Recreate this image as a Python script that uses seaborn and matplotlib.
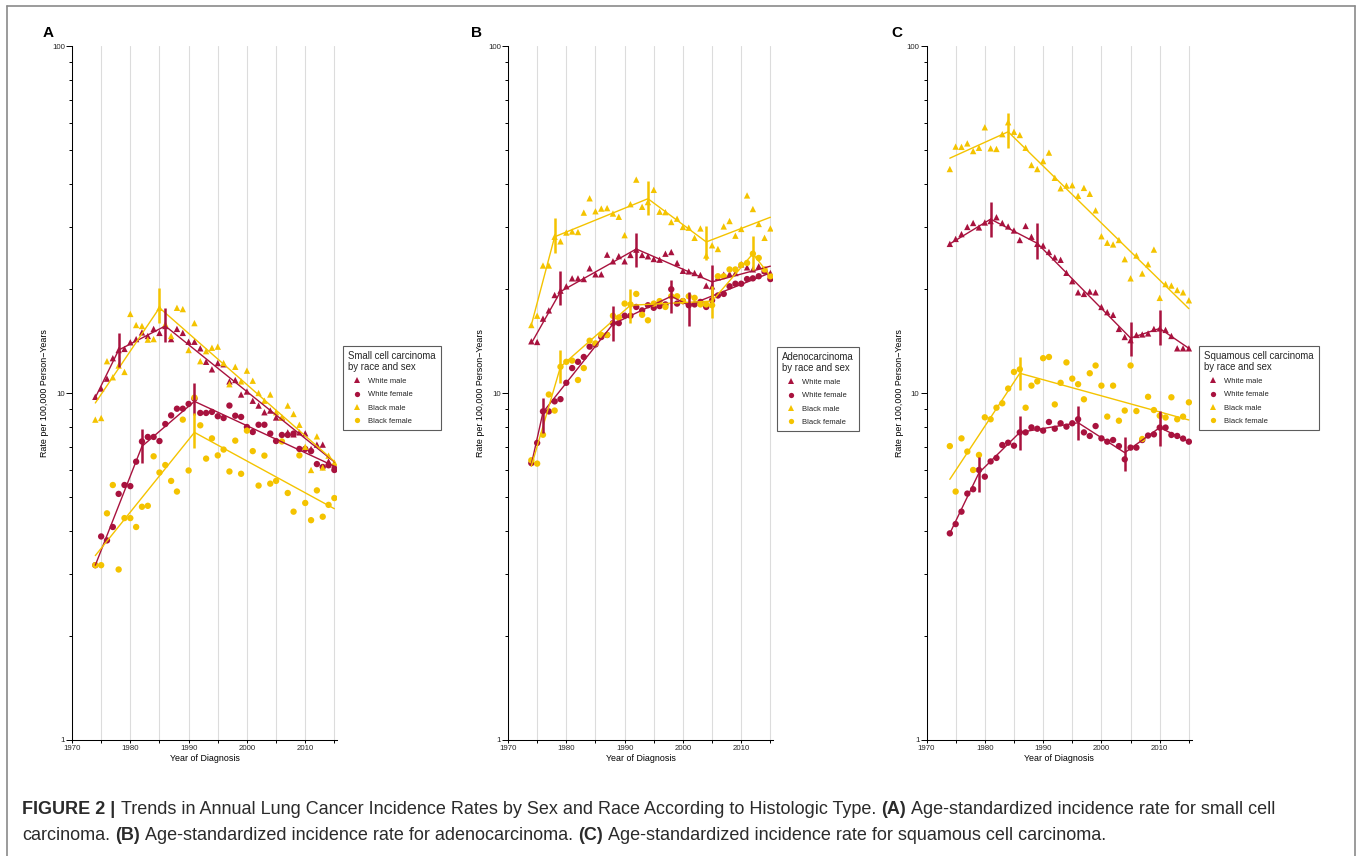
import numpy as np
import pandas as pd
import matplotlib
matplotlib.use("Agg")
import matplotlib.pyplot as plt
import seaborn as sns
from matplotlib.lines import Line2D
from matplotlib.ticker import FixedLocator, FixedFormatter, NullFormatter, LogLocator

# ---------------- data ----------------
years = list(range(1974, 2016))
groups = ["White male", "White female", "Black male", "Black female"]

# Panel A: small cell carcinoma
A_wm = [9.75, 10.3, 11.0, 12.6, 13.3, 13.4, 14.0, 14.3, 14.95, 14.6, 15.3, 14.9, 15.6, 14.3,
        15.3, 14.9, 14.05, 14.05, 13.45, 12.3, 11.7, 12.2, 12.1, 10.8, 10.9, 9.9, 10.1, 9.5,
        9.2, 8.8, 8.9, 8.5, 8.5, 7.7, 7.6, 7.7, 7.65, 6.9, 7.1, 7.1, 6.35, 6.2]
A_wf = [3.19, 3.86, 3.76, 4.11, 5.12, 5.43, 5.39, 6.34, 7.25, 7.47, 7.47, 7.27, 8.14, 8.62,
        9.01, 9.01, 9.3, 9.63, 8.76, 8.76, 8.82, 8.57, 8.47, 9.2, 8.6, 8.53, 7.98, 7.72,
        8.1, 8.1, 7.64, 7.27, 7.57, 7.57, 7.64, 6.9, 6.9, 6.8, 6.24, 6.12, 6.19, 6.0]
A_bm = [8.38, 8.47, 12.35, 11.1, 12.0, 11.5, 16.9, 15.7, 15.6, 14.25, 14.3, 17.6, 15.8, 14.6,
        17.6, 17.45, 13.3, 15.9, 12.35, 13.2, 13.5, 13.6, 12.2, 10.6, 11.9, 10.8, 11.6, 10.85,
        10.0, 9.5, 9.9, 8.8, 8.5, 9.2, 8.7, 8.1, 7.0, 6.0, 7.5, 6.1, 6.6, 6.3]
A_bf = [3.19, 3.19, 4.5, 5.43, 3.1, 4.36, 4.36, 4.11, 4.7, 4.73, 6.57, 5.9, 6.2, 5.58,
        5.2, 8.38, 5.98, 9.7, 8.07, 6.47, 7.4, 6.61, 6.87, 5.94, 7.29, 5.85, 7.79, 6.8,
        5.41, 6.6, 5.48, 5.58, 7.25, 5.15, 4.55, 6.61, 4.82, 4.3, 5.24, 4.4, 4.76, 4.98]

# Panel B: adenocarcinoma
B_wm = [14.09, 14.03, 16.38, 17.3, 19.16, 19.72, 20.3, 21.4, 21.4, 21.3, 22.87, 21.98, 21.98, 25.04,
        23.96, 24.8, 23.96, 24.99, 25.89, 24.99, 24.77, 24.33, 24.22, 25.2, 25.48, 23.7, 22.5, 22.41,
        22.17, 21.88, 20.39, 20.3, 21.55, 21.93, 22.03, 22.17, 23.49, 23.02, 22.72, 23.18, 22.57, 22.17]
B_wf = [6.28, 7.18, 8.85, 8.85, 9.46, 9.6, 10.7, 11.8, 12.3, 12.7, 13.6, 13.8, 14.5, 14.7,
        15.9, 15.9, 16.7, 16.7, 17.7, 17.3, 17.9, 17.6, 17.8, 18.0, 19.9, 18.1, 18.4, 17.9,
        18.0, 18.3, 17.7, 18.5, 19.1, 19.3, 20.3, 20.65, 20.65, 21.3, 21.4, 21.7, 22.4, 21.3]
B_bm = [15.7, 16.7, 23.3, 23.3, 28.2, 27.35, 29.0, 29.2, 29.1, 33.1, 36.4, 33.4, 34.0, 34.1,
        32.9, 32.2, 28.5, 35.0, 41.2, 34.4, 35.5, 38.5, 33.3, 33.2, 31.1, 31.8, 30.1, 29.95,
        28.0, 29.8, 24.9, 26.65, 26.0, 30.2, 31.3, 28.4, 29.7, 37.1, 33.9, 30.7, 28.0, 29.8]
B_bf = [6.4, 6.26, 7.58, 9.9, 8.9, 11.9, 12.3, 12.4, 10.9, 11.8, 14.15, 13.9, 14.7, 14.7,
        16.7, 16.5, 18.1, 18.0, 19.3, 16.8, 16.2, 18.1, 18.4, 17.7, 19.0, 19.0, 18.4, 19.0,
        18.8, 18.0, 18.0, 17.9, 21.7, 21.7, 22.7, 22.7, 23.4, 23.7, 25.2, 24.5, 22.7, 21.7]

# Panel C: squamous cell carcinoma
C_wm = [26.9, 27.8, 28.7, 30.1, 30.9, 30.0, 31.0, 31.3, 32.1, 30.9, 30.2, 29.4, 27.6, 30.3,
        28.2, 26.9, 26.6, 25.5, 24.6, 24.2, 22.2, 21.0, 19.5, 19.3, 19.6, 19.5, 17.7, 17.1,
        16.8, 15.3, 14.5, 14.2, 14.7, 14.75, 14.85, 15.3, 15.35, 15.2, 14.6, 13.45, 13.45, 13.45]
C_wf = [3.94, 4.19, 4.55, 5.13, 5.28, 6.0, 5.74, 6.35, 6.5, 7.08, 7.19, 7.05, 7.7, 7.7,
        7.96, 7.89, 7.79, 8.25, 7.89, 8.18, 8.0, 8.18, 8.4, 7.7, 7.52, 8.03, 7.4, 7.24,
        7.32, 7.03, 6.44, 6.96, 6.96, 7.32, 7.54, 7.6, 7.95, 7.95, 7.57, 7.52, 7.39, 7.24]
C_bm = [44.2, 51.3, 51.2, 52.4, 49.8, 50.9, 58.3, 50.7, 50.5, 55.7, 60.3, 56.6, 55.4, 50.9,
        45.4, 44.2, 46.6, 49.3, 41.7, 38.9, 39.6, 39.7, 37.0, 39.0, 37.5, 33.6, 28.3, 27.1,
        26.8, 27.6, 24.3, 21.4, 24.9, 22.1, 23.5, 25.9, 18.8, 20.6, 20.4, 19.8, 19.5, 18.5]
C_bf = [7.03, 5.2, 7.4, 6.78, 6.0, 6.63, 8.51, 8.4, 9.07, 9.34, 10.3, 11.5, 11.7, 9.07,
        10.5, 10.8, 12.6, 12.7, 9.27, 10.7, 12.25, 11.0, 10.6, 9.59, 11.4, 12.0, 10.5, 8.55,
        10.5, 8.32, 8.9, 12.0, 8.87, 7.37, 9.75, 8.93, 8.6, 8.5, 9.72, 8.4, 8.55, 9.4]

# Joinpoint fitted segments: (joinpoint years, fitted values)
A_fit = {
    "White male": ([1974, 1978, 1986, 2015], [9.7, 13.3, 15.6, 6.33]),
    "White female": ([1974, 1982, 1991, 2015], [3.19, 7.02, 9.46, 6.15]),
    "Black male": ([1974, 1985, 2015], [9.36, 17.6, 6.35]),
    "Black female": ([1974, 1991, 2015], [3.4, 7.7, 4.64]),
}
B_fit = {
    "White male": ([1974, 1979, 1992, 2005, 2015], [13.9, 19.6, 26.0, 20.9, 23.2]),
    "White female": ([1974, 1976, 1988, 1998, 2001, 2015], [6.22, 8.8, 15.8, 19.0, 17.9, 22.2]),
    "Black male": ([1974, 1978, 1994, 2004, 2015], [15.7, 28.2, 36.3, 27.25, 32.1]),
    "Black female": ([1974, 1979, 1991, 2005, 2012, 2015], [6.15, 11.9, 17.9, 18.4, 25.2, 21.7]),
}
C_fit = {
    "White male": ([1974, 1981, 1989, 2005, 2010, 2015], [26.9, 31.7, 27.0, 14.4, 15.35, 13.45]),
    "White female": ([1974, 1979, 1986, 1996, 2004, 2010, 2015], [3.94, 5.89, 7.7, 8.21, 6.73, 7.95, 7.24]),
    "Black male": ([1974, 1984, 2015], [47.5, 56.6, 17.5]),
    "Black female": ([1974, 1986, 2015], [5.64, 11.4, 8.36]),
}

# Confidence intervals at joinpoints: (year, low, high)
A_ci = {
    "White male": [(1978, 11.9, 14.9), (1986, 14.0, 17.6)],
    "White female": [(1982, 6.3, 7.9), (1991, 8.66, 10.7)],
    "Black male": [(1985, 15.9, 20.1)],
    "Black female": [(1991, 6.94, 8.76)],
}
B_ci = {
    "White male": [(1979, 17.9, 22.4), (1992, 23.1, 29.0), (2005, 18.6, 23.4)],
    "White female": [(1976, 7.67, 9.67), (1988, 14.1, 17.8), (1998, 17.0, 21.2), (2001, 15.6, 19.6)],
    "Black male": [(1978, 25.4, 31.9), (1994, 32.5, 40.7), (2004, 24.2, 30.3)],
    "Black female": [(1979, 10.7, 13.3), (1991, 15.9, 20.0), (2005, 16.4, 20.3), (2012, 22.6, 28.4)],
}
C_ci = {
    "White male": [(1981, 28.2, 35.6), (1989, 24.4, 30.8), (2005, 12.8, 16.05), (2010, 13.75, 17.3)],
    "White female": [(1979, 5.2, 6.53), (1986, 6.85, 8.6), (1996, 7.32, 9.2), (2004, 5.97, 7.48), (2010, 7.03, 8.9)],
    "Black male": [(1984, 50.7, 64.0)],
    "Black female": [(1986, 10.2, 12.7)],
}

panel_letters = ["A", "B", "C"]
legend_titles = ["Small cell carcinoma\nby race and sex",
                 "Adenocarcinoma\nby race and sex",
                 "Squamous cell carcinoma\nby race and sex"]
x_major = [1970, 1980, 1990, 2000, 2010]
x_minor = [1975, 1985, 1995, 2005, 2015]
y_major = [1, 10, 100]
y_major_labels = ["1", "10", "100"]

caption_line1 = [("FIGURE 2 |", "bold"),
                 ("Trends in Annual Lung Cancer Incidence Rates by Sex and Race According to Histologic Type.", "normal"),
                 ("(A)", "bold"),
                 ("Age-standardized incidence rate for small cell", "normal")]
caption_line2 = [("carcinoma.", "normal"), ("(B)", "bold"),
                 ("Age-standardized incidence rate for adenocarcinoma.", "normal"),
                 ("(C)", "bold"),
                 ("Age-standardized incidence rate for squamous cell carcinoma.", "normal")]

# ---------------- style ----------------
RED = "#A8123E"
GOLD = "#F4C300"
palette = {"White male": RED, "White female": RED, "Black male": GOLD, "Black female": GOLD}
markers = {"White male": "^", "White female": "o", "Black male": "^", "Black female": "o"}

sns.set_theme(style="white")
plt.rcParams["font.family"] = ["Liberation Sans", "DejaVu Sans"]
plt.rcParams["axes.linewidth"] = 0.75

W, H = 1363, 856
fig = plt.figure(figsize=(W / 100, H / 100), dpi=100)
fig.patch.set_facecolor("white")

def fx(px):
    return px / W

def fy(py):
    return 1 - py / H

ax_left_px = [72, 508, 926.5]
ax_w_px = 265.3
ax_top_px, ax_bot_px = 46, 740
legend_pos = [(343, 346), (777, 347), (1199, 346)]
letter_x = [48.5, 476, 897]

panels = [
    ([A_wm, A_wf, A_bm, A_bf], A_fit, A_ci),
    ([B_wm, B_wf, B_bm, B_bf], B_fit, B_ci),
    ([C_wm, C_wf, C_bm, C_bf], C_fit, C_ci),
]

for i, (pts, fits, cis) in enumerate(panels):
    ax = fig.add_axes([fx(ax_left_px[i]), fy(ax_bot_px),
                       ax_w_px / W, (ax_bot_px - ax_top_px) / H])
    ax.set_facecolor("white")
    ax.set_yscale("log")
    ax.set_xlim(1970, 2015.5)
    ax.set_ylim(1, 100)

    ax.set_xticks(x_major)
    ax.set_xticks(x_minor, minor=True)
    ax.set_xticklabels([str(v) for v in x_major])
    ax.yaxis.set_major_locator(FixedLocator(y_major))
    ax.yaxis.set_major_formatter(FixedFormatter(y_major_labels))
    ax.yaxis.set_minor_locator(LogLocator(base=10, subs=range(2, 10)))
    ax.yaxis.set_minor_formatter(NullFormatter())

    ax.grid(True, axis="x", which="both", color="#dcdcdc", lw=0.8)
    ax.grid(False, axis="y", which="both")
    ax.set_axisbelow(True)
    for s in ["top", "right"]:
        ax.spines[s].set_visible(False)
    for s in ["left", "bottom"]:
        ax.spines[s].set_color("black")
        ax.spines[s].set_linewidth(0.75)

    ax.tick_params(axis="x", which="both", direction="out", length=2.2, width=0.7,
                   color="black", labelsize=5.7, pad=1.5, bottom=True)
    ax.tick_params(axis="y", which="major", direction="out", length=4, width=0.7,
                   color="black", labelsize=5.7, pad=1.2, left=True)
    ax.tick_params(axis="y", which="minor", direction="out", length=2.4, width=0.7,
                   color="black", left=True)

    df = pd.DataFrame({
        "year": years * 4,
        "rate": [v for series in pts for v in series],
        "group": [g for g in groups for _ in years],
    })
    sns.scatterplot(data=df, x="year", y="rate", hue="group", style="group",
                    hue_order=groups, style_order=groups, palette=palette,
                    markers=markers, s=21, linewidth=0, legend=False, ax=ax, zorder=3)

    fit_rows = []
    for g in groups:
        yrs, vals = fits[g]
        for yv, vv in zip(yrs, vals):
            fit_rows.append({"year": yv, "rate": vv, "group": g})
    fit_df = pd.DataFrame(fit_rows)
    sns.lineplot(data=fit_df, x="year", y="rate", hue="group", hue_order=groups,
                 palette=palette, estimator=None, sort=False, lw=1.0,
                 legend=False, ax=ax, zorder=4)

    for g in groups:
        for (yr, lo, hi) in cis[g]:
            ax.vlines(yr, lo, hi, colors=palette[g], lw=1.8, zorder=5)

    ax.set_xlabel("Year of Diagnosis", fontsize=6.4, labelpad=1.5, color="black")
    ax.set_ylabel("Rate per 100,000 Person\u2212Years", fontsize=6.4, color="black")
    ax.yaxis.set_label_coords(-0.085, 0.5)

    handles = [Line2D([], [], marker=markers[g], color=palette[g], linestyle="",
                      markersize=3.8, markeredgewidth=0) for g in groups]
    lx, ly = legend_pos[i]
    leg = ax.legend(handles, groups, title=legend_titles[i], loc="upper left",
                    bbox_to_anchor=(fx(lx), fy(ly)), bbox_transform=fig.transFigure,
                    fontsize=5.5, title_fontsize=6.9, frameon=True, fancybox=False,
                    borderpad=0.7, labelspacing=0.78, handlelength=2.35,
                    handletextpad=0.25, borderaxespad=0, alignment="left")
    leg.get_frame().set_edgecolor("#333333")
    leg.get_frame().set_linewidth(0.8)
    leg.get_title().set_linespacing(1.05)

    fig.text(fx(letter_x[i]), fy(37.3), panel_letters[i], fontsize=11, fontweight="bold",
             ha="center", va="baseline", color="black")

# ---------------- frame ----------------
frame_col = "#8a8a8a"
fig.add_artist(Line2D([fx(7), fx(7)], [fy(6), fy(856)], color=frame_col, lw=1.2,
                      transform=fig.transFigure))
fig.add_artist(Line2D([fx(7), fx(1355)], [fy(6), fy(6)], color=frame_col, lw=1.2,
                      transform=fig.transFigure))
fig.add_artist(Line2D([fx(1355), fx(1355)], [fy(6), fy(856)], color=frame_col, lw=1.2,
                      transform=fig.transFigure))

# ---------------- caption ----------------
renderer = fig.canvas.get_renderer()
CAP_COL = "#2b2b2b"

def text_width(s, size, weight):
    t = fig.text(0, 0, s, fontsize=size, fontweight=weight)
    w = t.get_window_extent(renderer).width
    t.remove()
    return w

def line_width(runs, size):
    sp = text_width("a a", size, "normal") - text_width("aa", size, "normal")
    return sum(text_width(s, size, w) for s, w in runs) + sp * (len(runs) - 1)

base = 10.0
cap_size = base * 1260.0 / line_width(caption_line1, base)

def draw_runs(runs, x0, y_base, size):
    sp = text_width("a a", size, "normal") - text_width("aa", size, "normal")
    x = x0
    for s, w in runs:
        fig.text(fx(x), fy(y_base), s, fontsize=size, fontweight=w, color=CAP_COL,
                 ha="left", va="baseline")
        x += text_width(s, size, w) + sp

draw_runs(caption_line1, 22.5, 814, cap_size)
draw_runs(caption_line2, 22.5, 839.5, cap_size)

fig.savefig("out.png", dpi=100, facecolor="white")
